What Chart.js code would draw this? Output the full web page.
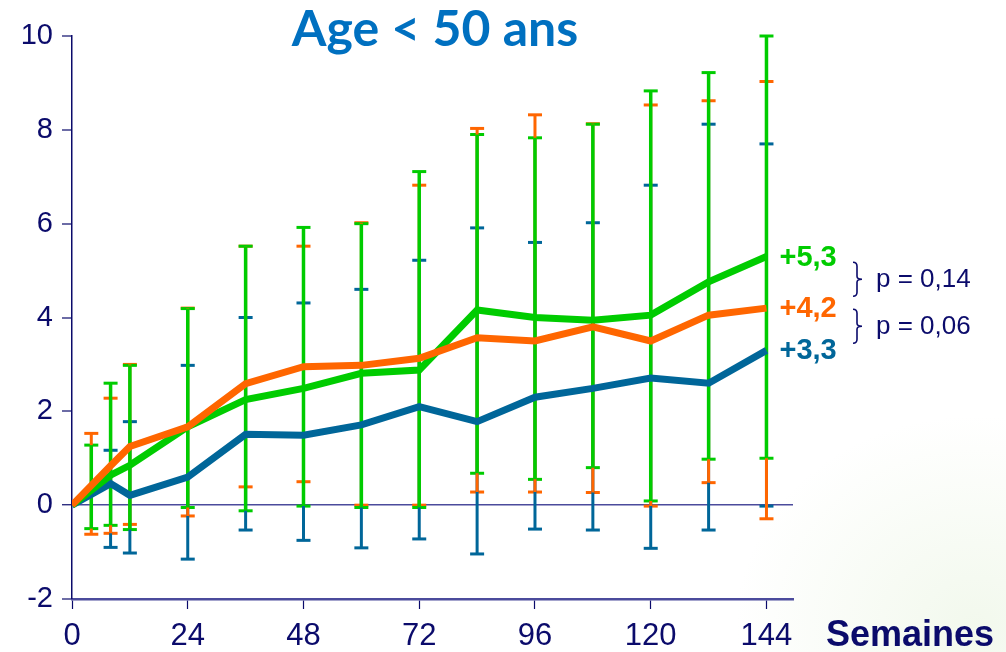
<!DOCTYPE html>
<html>
<head>
<meta charset="utf-8">
<title>Age &lt; 50 ans</title>
<script src="https://cdn.jsdelivr.net/npm/chart.js@4"></script>
<style>
  html, body { margin: 0; padding: 0; }
  body {
    width: 1006px; height: 652px; overflow: hidden;
    background:
      radial-gradient(ellipse 240px 210px at 975px 625px, rgba(205, 230, 185, 0.26), rgba(255, 255, 255, 0) 100%),
      #ffffff;
  }
  canvas { display: block; }
</style>
</head>
<body>
<canvas id="chart" width="1006" height="652"></canvas>
<script>
// Weeks at which the mean curves are plotted
const weeks = [0, 8, 12, 24, 36, 48, 60, 72, 84, 96, 108, 120, 132, 144];

// Mean change per group
const greenMean  = [0, 0.64, 0.85, 1.67, 2.25, 2.49, 2.81, 2.88, 4.16, 4.00, 3.94, 4.05, 4.76, 5.3];
const orangeMean = [0, 0.84, 1.25, 1.67, 2.59, 2.95, 2.98, 3.13, 3.57, 3.50, 3.80, 3.50, 4.05, 4.2];
const blueMean   = [0, 0.46, 0.21, 0.60, 1.51, 1.49, 1.71, 2.10, 1.78, 2.30, 2.49, 2.71, 2.60, 3.3];

// Weeks carrying an error bar
const barWeeks = [4, 8, 12, 24, 36, 48, 60, 72, 84, 96, 108, 120, 132, 144];

// Error bar bounds (low / high) per group
const greenLow   = [-0.50, -0.43, -0.52, -0.05, -0.12, -0.02, -0.05, -0.05, 0.68, 0.55, 0.80, 0.09, 0.98, 1.00];
const greenHigh  = [1.28, 2.60, 2.98, 4.19, 5.52, 5.92, 6.00, 7.11, 7.90, 7.83, 8.12, 8.83, 9.22, 10.00];
const orangeLow  = [-0.62, -0.60, -0.41, -0.23, 0.39, 0.50, 0.00, 0.00, 0.28, 0.28, 0.27, -0.02, 0.48, -0.29];
const orangeHigh = [1.53, 2.28, 3.00, 4.20, 5.52, 5.52, 6.02, 6.82, 8.03, 8.32, 8.13, 8.53, 8.62, 9.03];
const blueLow    = [null, -0.90, -1.02, -1.15, -0.53, -0.75, -0.91, -0.72, -1.04, -0.51, -0.53, -0.92, -0.53, -0.02];
const blueHigh   = [null, 1.17, 1.78, 2.98, 4.00, 4.31, 4.60, 5.22, 5.91, 5.60, 6.02, 6.82, 8.12, 7.70];

// Axis tick values
const xTicks = [0, 24, 48, 72, 96, 120, 144];
const yTicks = [-2, 0, 2, 4, 6, 8, 10];

// Comparison p-values between neighbouring groups (green/orange, orange/blue)
const pValues = ['0,14', '0,06'];

const GREEN = '#00cc00';
const ORANGE = '#ff6600';
const BLUE = '#006699';
const NAVY = '#0b0b6b';
const AXIS = '#4b4b9c';
const FONT = "'Liberation Sans', Arial, sans-serif";

const groups = [
  { color: BLUE,   mean: blueMean,   low: blueLow,   high: blueHigh,   w: 3 },
  { color: ORANGE, mean: orangeMean, low: orangeLow, high: orangeHigh, w: 3 },
  { color: GREEN,  mean: greenMean,  low: greenLow,  high: greenHigh,  w: 3.5 }
];

const toPoints = arr => weeks.map((w, i) => ({ x: w, y: arr[i] }));
const fmt = v => '+' + v.toFixed(1).replace('.', ',');

// Vertical error bars with caps, drawn beneath the mean curves
const errorBars = {
  id: 'errorBars',
  beforeDatasetsDraw(chart) {
    const { ctx, scales: { x, y } } = chart;
    ctx.save();
    ctx.lineCap = 'butt';
    groups.forEach(g => {
      ctx.strokeStyle = g.color;
      ctx.lineWidth = 3;
      barWeeks.forEach((w, i) => {
        if (g.low[i] == null) return;
        const px = x.getPixelForValue(w);
        [g.low[i], g.high[i]].forEach(v => {
          const py = y.getPixelForValue(v);
          ctx.beginPath();
          ctx.moveTo(px - 7, py);
          ctx.lineTo(px + 7, py);
          ctx.stroke();
        });
      });
    });
    groups.forEach(g => {
      ctx.strokeStyle = g.color;
      ctx.lineWidth = g.w;
      barWeeks.forEach((w, i) => {
        if (g.low[i] == null) return;
        const px = x.getPixelForValue(w);
        ctx.beginPath();
        ctx.moveTo(px, y.getPixelForValue(g.low[i]));
        ctx.lineTo(px, y.getPixelForValue(g.high[i]));
        ctx.stroke();
      });
    });
    ctx.restore();
  }
};

function drawBrace(ctx, x, top, bottom) {
  const mid = (top + bottom) / 2;
  ctx.beginPath();
  ctx.moveTo(x - 4, top);
  ctx.quadraticCurveTo(x, top, x, top + 4);
  ctx.lineTo(x, mid - 3);
  ctx.quadraticCurveTo(x, mid, x + 5, mid);
  ctx.quadraticCurveTo(x, mid, x, mid + 3);
  ctx.lineTo(x, bottom - 4);
  ctx.quadraticCurveTo(x, bottom, x - 4, bottom);
  ctx.stroke();
}

// Title, axis name, end-of-curve values and p-value braces
const annotations = {
  id: 'annotations',
  afterDraw(chart) {
    const { ctx, scales: { x, y } } = chart;
    ctx.save();

    ctx.fillStyle = '#0070c0';
    ctx.font = "bold 50px Lato, 'Open Sans', sans-serif";
    ctx.textAlign = 'center';
    ctx.textBaseline = 'alphabetic';
    ctx.fillText('Age < 50 ans', 435, 46);

    ctx.fillStyle = NAVY;
    ctx.font = 'bold 36px ' + FONT;
    ctx.textAlign = 'left';
    ctx.fillText('Semaines', 826, 646);

    const last = weeks.length - 1;
    const xEnd = x.getPixelForValue(weeks[last]) + 13;
    const ends = [
      { v: greenMean[last], c: GREEN },
      { v: orangeMean[last], c: ORANGE },
      { v: blueMean[last], c: BLUE }
    ];
    ctx.font = 'bold 29px ' + FONT;
    ctx.textBaseline = 'middle';
    ends.forEach(e => {
      ctx.fillStyle = e.c;
      ctx.fillText(fmt(e.v), xEnd, y.getPixelForValue(e.v) + 1);
    });

    ctx.strokeStyle = NAVY;
    ctx.lineWidth = 1.6;
    ctx.fillStyle = NAVY;
    ctx.font = '26px ' + FONT;
    for (let k = 0; k < 2; k++) {
      const a = y.getPixelForValue(ends[k].v);
      const b = y.getPixelForValue(ends[k + 1].v);
      const mid = (a + b) / 2 - 3;
      drawBrace(ctx, 857, mid - 17, mid + 17);
      ctx.fillText('p = ' + pValues[k], 876, mid + 1);
    }
    ctx.restore();
  }
};

new Chart(document.getElementById('chart'), {
  type: 'line',
  data: {
    datasets: [
      { label: 'orange', data: toPoints(orangeMean), borderColor: ORANGE, borderWidth: 7, pointRadius: 0, tension: 0, fill: false },
      { label: 'green',  data: toPoints(greenMean),  borderColor: GREEN,  borderWidth: 7, pointRadius: 0, tension: 0, fill: false },
      { label: 'blue',   data: toPoints(blueMean),   borderColor: BLUE,   borderWidth: 7, pointRadius: 0, tension: 0, fill: false }
    ]
  },
  options: {
    responsive: false,
    animation: false,
    devicePixelRatio: 1,
    layout: { padding: { top: 36, right: 213, left: 0, bottom: 0 } },
    plugins: { legend: { display: false }, tooltip: { enabled: false }, title: { display: false } },
    elements: { line: { borderCapStyle: 'butt', borderJoinStyle: 'miter' } },
    scales: {
      x: {
        type: 'linear',
        min: 0,
        max: 149.5,
        afterBuildTicks: s => { s.ticks = xTicks.map(v => ({ value: v })); },
        afterFit: s => { s.height = 53; },
        grid: { drawOnChartArea: false, drawTicks: true, tickLength: 10, tickColor: NAVY, tickWidth: 1.2 },
        border: { display: true, color: AXIS, width: 2.5 },
        ticks: { color: NAVY, font: { family: FONT, size: 31 }, padding: 9, maxRotation: 0 }
      },
      y: {
        min: -2,
        max: 10,
        afterBuildTicks: s => { s.ticks = yTicks.map(v => ({ value: v })); },
        afterFit: s => { s.width = 72; },
        grid: {
          drawOnChartArea: true,
          drawTicks: true,
          tickLength: 10,
          color: c => (c.tick && c.tick.value === 0 ? AXIS : 'rgba(0,0,0,0)'),
          lineWidth: c => (c.tick && c.tick.value === 0 ? 1.5 : 0),
          tickColor: NAVY,
          tickWidth: 1.2
        },
        border: { display: true, color: NAVY, width: 1.5 },
        ticks: { color: NAVY, font: { family: FONT, size: 29 }, padding: 9 }
      }
    }
  },
  plugins: [errorBars, annotations]
});
</script>
</body>
</html>
